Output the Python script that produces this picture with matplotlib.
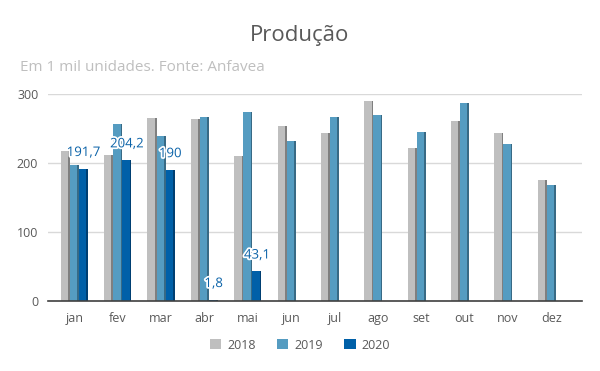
import matplotlib.pyplot as plt
import matplotlib.patheffects as pe
import numpy as np

plt.rcParams['font.family'] = ['Open Sans', 'DejaVu Sans']

meses = ['jan', 'fev', 'mar', 'abr', 'mai', 'jun', 'jul', 'ago', 'set', 'out', 'nov', 'dez']
prod_2018 = [218, 212, 265, 264, 210, 254, 244, 290, 222, 261, 244, 176]
prod_2019 = [197, 257, 239, 266, 274, 232, 266, 269, 245, 287, 227, 168]
prod_2020 = [191.7, 204.2, 190, 1.8, 43.1]
rotulos_2020 = ['191,7', '204,2', '190', '1,8', '43,1']

cores = ['#bfbfbf', '#559cc1', '#0060a8']
lados = ['#7f7f7f', '#386a85', '#003f72']

fig = plt.figure(figsize=(6, 3.71), dpi=100)
ax = fig.add_axes([0.08, 0.1887, 0.89, 0.558])

x = np.arange(len(meses))
w = 0.21
side = 0.04
series = [prod_2018, prod_2019, prod_2020]
nomes = ['2018', '2019', '2020']
for i, (vals, c, s, nome) in enumerate(zip(series, cores, lados, nomes)):
    xs = x[:len(vals)] + (i - 1) * w
    ax.bar(xs - side / 2, vals, width=w - side, color=c, label=nome, zorder=3)
    # lado escuro para imitar o 3d
    ax.bar(xs + (w - side) / 2, vals, width=side, color=s, zorder=3)

for xi, v, t in zip(x[:len(prod_2020)] + w, prod_2020, rotulos_2020):
    ax.annotate(t, (xi, v), xytext=(0, 7), textcoords='offset points',
                ha='center', va='bottom', fontsize=9.5, color='#0a62a8',
                path_effects=[pe.withStroke(linewidth=2.5, foreground='white')], zorder=5)

ax.set_xlim(-0.61, 11.71)
ax.set_ylim(0, 300)
ax.set_yticks([0, 100, 200, 300])
ax.set_xticks(x)
ax.set_xticklabels(meses)
ax.tick_params(length=0, colors='#595959', labelsize=9, pad=8)
ax.tick_params(axis='y', pad=7)
ax.grid(axis='y', color='#d9d9d9', linewidth=1, zorder=0)
for sp in ['top', 'right', 'left']:
    ax.spines[sp].set_visible(False)
ax.spines['bottom'].set_color('#404040')
ax.spines['bottom'].set_linewidth(1.2)
ax.spines['bottom'].set_zorder(4)

fig.text(0.5, 0.905, 'Produção', ha='center', va='center', fontsize=16, color='#595959')
fig.text(0.033, 0.818, 'Em 1 mil unidades. Fonte: Anfavea', ha='left', va='center',
         fontsize=11, color='#bfbfbf')

handles, labels = ax.get_legend_handles_labels()
fig.legend(handles, labels, loc='center', bbox_to_anchor=(0.5, 0.07), ncol=3, frameon=False,
           fontsize=9, labelcolor='#595959', handlelength=0.9, handleheight=0.9,
           columnspacing=1.7, handletextpad=0.5)

fig.savefig('out.png', dpi=100)
